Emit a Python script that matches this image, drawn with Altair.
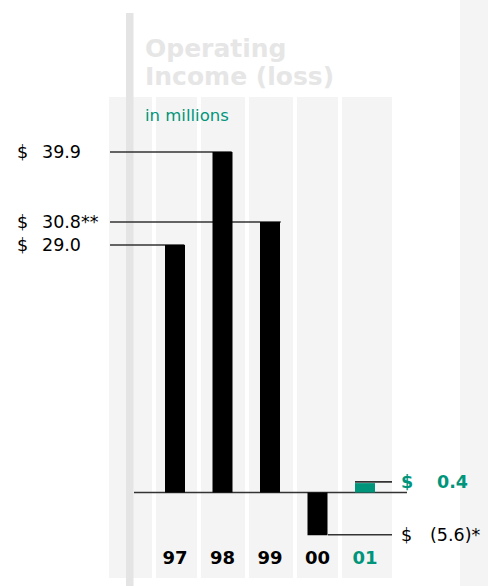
import altair as alt
import pandas as pd

# ---- data ----
years = ["97", "98", "99", "00", "01"]
bar_heights = [29.0, 39.9, 31.7, -5.0, 1.1]          # drawn heights (millions)
highlight = ["no", "no", "no", "no", "yes"]
left_values = [39.9, 31.7, 29.0]
left_labels = ["39.9", "30.8**", "29.0"]
right_values = [1.25, -4.95]
right_labels = ["0.4", "(5.6)*"]

TEAL = "#00957b"
BAND = "#f4f4f4"
FONT = "DejaVu Sans"
NUM_SIZE = 17.5

bars_df = pd.DataFrame({"year": years, "value": bar_heights, "hl": highlight})
left_df = pd.DataFrame({"value": left_values, "label": left_labels})
one = pd.DataFrame({"k": [0]})

yscale = alt.Scale(domain=[-10.956, 57.712], nice=False, zero=False)
xscale = alt.Scale(domain=years, range=[151.25, 388.75], paddingInner=0, paddingOuter=0)
cscale = alt.Scale(domain=["no", "yes"], range=["#000000", TEAL])


def rect(x1, x2, y1, y2, color):
    return alt.Chart(one).mark_rect(color=color).encode(
        x=alt.value(x1), x2=alt.value(x2), y=alt.value(y1), y2=alt.value(y2))


def leader(v, x1, x2):
    d = pd.DataFrame({"value": [v]})
    return alt.Chart(d).mark_rule(color="#333333", strokeWidth=1.6).encode(
        x=alt.value(x1), x2=alt.value(x2), y=alt.Y("value:Q", scale=yscale, axis=None))


def label(txt, x, y, size, color, weight="normal"):
    return alt.Chart(one).mark_text(
        align="left", baseline="alphabetic", font=FONT, fontSize=size,
        fontWeight=weight, color=color).encode(
        x=alt.value(x), y=alt.value(y), text=alt.value(txt))


def vlabel(txt, x, v, color, weight="normal"):
    d = pd.DataFrame({"value": [v], "label": [txt]})
    return alt.Chart(d).mark_text(
        align="left", baseline="alphabetic", dy=6, font=FONT, fontSize=NUM_SIZE,
        fontWeight=weight, color=color).encode(
        x=alt.value(x), y=alt.Y("value:Q", scale=yscale, axis=None), text="label:N")


layers = [
    rect(460, 488, 0, 586, BAND),
    rect(109, 152, 97, 578, BAND),
    rect(156, 197, 97, 578, BAND),
    rect(201, 245, 97, 578, BAND),
    rect(249, 293, 97, 578, BAND),
    rect(297, 338, 97, 578, BAND),
    rect(342, 392, 97, 578, BAND),
    rect(126, 133.5, 13, 586, "#e4e4e4"),
    label("Operating", 145, 57, 25, "#e6e6e6", "bold"),
    label("Income (loss)", 145, 85, 25, "#e6e6e6", "bold"),
    label("in millions", 145, 121, 16.5, TEAL),
    leader(39.9, 110, 231.7),
    leader(31.7, 110, 280.7),
    leader(29.0, 110, 184.3),
    leader(right_values[0], 355, 392),
    leader(right_values[1], 328, 392),
    leader(0, 134, 407),
]

bars = alt.Chart(bars_df).mark_bar(width=20).encode(
    x=alt.X("year:N", scale=xscale, axis=None, sort=years),
    y=alt.Y("value:Q", scale=yscale, axis=None),
    y2=alt.datum(0),
    color=alt.Color("hl:N", scale=cscale, legend=None),
)

year_text = alt.Chart(bars_df).mark_text(
    font=FONT, fontSize=18, fontWeight="bold", baseline="alphabetic", align="center").encode(
    x=alt.X("year:N", scale=xscale, axis=None, sort=years),
    y=alt.value(564),
    text="year:N",
    color=alt.Color("hl:N", scale=cscale, legend=None),
)

left_dollar = alt.Chart(left_df).mark_text(
    font=FONT, fontSize=NUM_SIZE, align="left", baseline="alphabetic", dy=6, color="#000").encode(
    x=alt.value(17), y=alt.Y("value:Q", scale=yscale, axis=None), text=alt.value("$"))
left_num = alt.Chart(left_df).mark_text(
    font=FONT, fontSize=NUM_SIZE, align="left", baseline="alphabetic", dy=6, color="#000").encode(
    x=alt.value(42), y=alt.Y("value:Q", scale=yscale, axis=None), text="label:N")

right = [
    vlabel("$", 401, right_values[0], TEAL, "bold"),
    vlabel(right_labels[0], 437, right_values[0], TEAL, "bold"),
    vlabel("$", 401, right_values[1], "#000000"),
    vlabel(right_labels[1], 430, right_values[1], "#000000"),
]

chart = alt.layer(
    *layers, bars, year_text, left_dollar, left_num, *right
).properties(
    width=488, height=586, padding=0, autosize=alt.AutoSizeParams(type="none"),
    background="white",
).configure_view(stroke=None)

chart.save("out.html", embed_options={"renderer": "svg", "actions": False})
